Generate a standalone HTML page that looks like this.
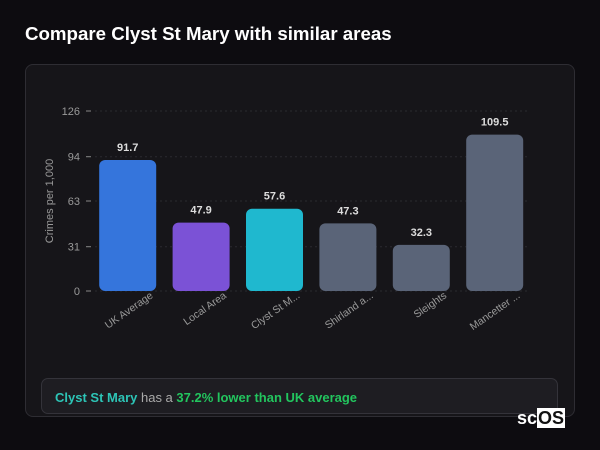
<!DOCTYPE html>
<html><head><meta charset="utf-8"><style>
body{margin:0;width:600px;height:450px;background:#0d0c10;font-family:"Liberation Sans",sans-serif;position:relative;overflow:hidden}
.title{position:absolute;left:25px;top:23px;color:#fff;font-weight:bold;font-size:18.7px}
.card{position:absolute;left:25px;top:64px;width:550px;height:353px;background:#161519;border:1px solid #2e2d33;border-radius:8px;box-sizing:border-box}
.foot{position:absolute;left:41px;top:378px;width:517px;height:36px;background:#1e1d22;border:1px solid #34333a;border-radius:7px;box-sizing:border-box;font-size:13px;line-height:38px;padding-left:13px;color:#aaa}
.logo{position:absolute;left:517px;top:408px;font-size:18px;font-weight:bold;color:#fff}
</style></head><body>
<div class="title">Compare Clyst St Mary with similar areas</div>
<div class="card"></div>
<svg id="chart" width="600" height="450" style="position:absolute;left:0;top:0"></svg>
<div class="foot"><b style="color:#2dc4b6">Clyst St Mary</b> has a <b style="color:#22c55e">37.2% lower than UK average</b></div>
<div class="logo">sc<span style="background:#fff;color:#111;padding:0 1px">OS</span></div>
<script>
const categories=["UK Average","Local Area","Clyst St M...","Shirland a...","Sleights","Mancetter ..."];
const values=[91.7,47.9,57.6,47.3,32.3,109.5];
const colors=["#3575dc","#7b52d6","#1fb8cf","#5a6478","#5a6478","#5a6478"];
const ticks=[0,31,63,94,126];
const NS="http://www.w3.org/2000/svg";
const svg=document.getElementById("chart");
const y0=291,y1=111,vmax=126,x0=91,band=73.4,bw=57;
const y=v=>y0-(v/vmax)*(y0-y1);
const x=i=>x0+i*band+(band-bw)/2;
function mk(t,a){const e=document.createElementNS(NS,t);for(const k in a)e.setAttribute(k,a[k]);svg.appendChild(e);return e;}
ticks.forEach(t=>{
  const g=mk("line",{x1:95,x2:530,y1:y(t),y2:y(t),stroke:"#2a2a30","stroke-dasharray":"2,3"});
  
  
  const tk=mk("line",{x1:86,x2:91,y1:y(t),y2:y(t),stroke:"#888"});
  
  
  const l=mk("text",{x:80,y:y(t)+4,"text-anchor":"end","font-size":"11",fill:"#999"});
  l.textContent=t;
  
  
});
const yt=mk("text",{x:0,y:0,transform:"translate(53,201) rotate(-90)","text-anchor":"middle","font-size":"11",fill:"#999"});
yt.textContent="Crimes per 1,000";


values.forEach((v,i)=>{
  const b=mk("rect",{x:x(i),y:y(v),width:bw,height:y0-y(v),rx:6,fill:colors[i]});
  
  
  const t=mk("text",{x:x(i)+bw/2,y:y(v)-9,"text-anchor":"middle","font-size":"11","font-weight":"bold",fill:"#ddd"});
  t.textContent=v.toFixed(1);
  
  
  const c=mk("text",{x:0,y:0,transform:`translate(${x(i)+bw/2+26},${y0+6}) rotate(-35)`,"text-anchor":"end","font-size":"10.5",fill:"#999"});
  c.textContent=categories[i];
  
  
});
</script>
</body></html>
